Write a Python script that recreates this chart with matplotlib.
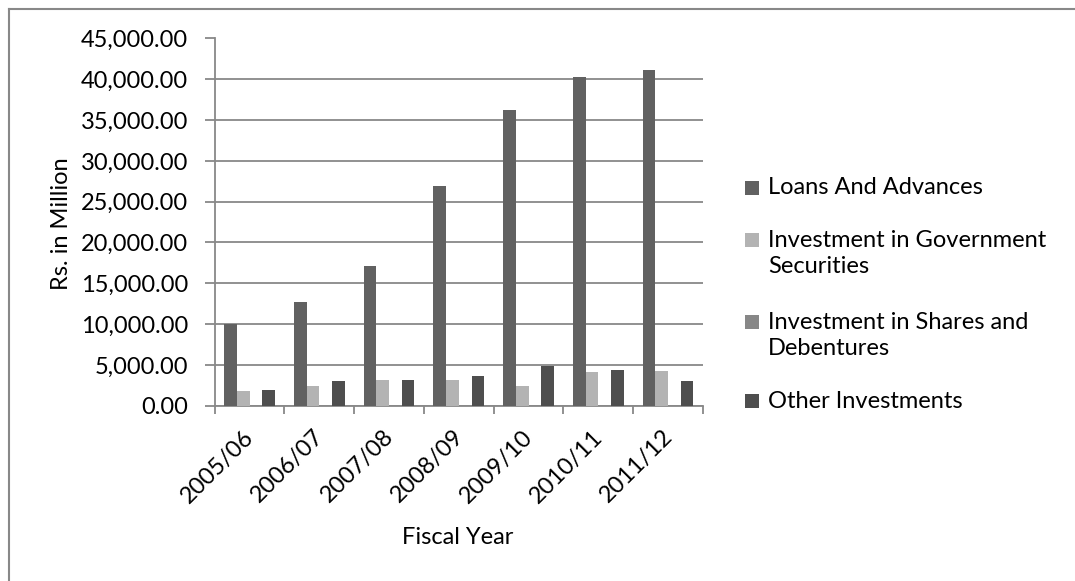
import matplotlib
matplotlib.use("Agg")
import matplotlib.pyplot as plt
from matplotlib.patches import Rectangle
from matplotlib.lines import Line2D
from matplotlib.ticker import FuncFormatter
import matplotlib.transforms as mtransforms
import numpy as np

# Fiscal years and figures in Rs. million
years = ["2005/06", "2006/07", "2007/08", "2008/09", "2009/10", "2010/11", "2011/12"]
loans_advances = [10050, 12670, 17160, 26920, 36240, 40320, 41100]
govt_securities = [1860, 2440, 3180, 3090, 2440, 4170, 4260]
shares_debentures = [0, 0, 0, 0, 0, 0, 0]
other_investments = [1940, 3020, 3140, 3640, 4830, 4330, 3020]

series_names = ["Loans And Advances",
                "Investment in Government\nSecurities",
                "Investment in Shares and\nDebentures",
                "Other Investments"]
series_values = [loans_advances, govt_securities, shares_debentures, other_investments]
series_colors = ["#616161", "#b3b3b3", "#878787", "#4e4e4e"]

FONT = "Lato"
FS = 17.0
GRID = "#888888"

W, H = 1075, 581
fig = plt.figure(figsize=(W / 100, H / 100), dpi=100)
fig.patch.set_facecolor("white")

def px(x, y):
    return x / W, 1 - y / H

left, right, top, bottom = 214.7, 703.0, 38.5, 405.7
ax = fig.add_axes([left / W, 1 - bottom / H, (right - left) / W, (bottom - top) / H])

x = np.arange(len(years))
n = len(series_values)
bw = 1 / 5.5
for i, (vals, col) in enumerate(zip(series_values, series_colors)):
    ax.bar(x + (i - (n - 1) / 2) * bw, vals, width=bw, color=col, linewidth=0, zorder=3)

ax.set_xlim(-0.5, len(years) - 0.5)
ax.set_ylim(0, 45000)
ax.set_yticks(np.arange(0, 45001, 5000))
ax.yaxis.set_major_formatter(FuncFormatter(lambda v, p: f"{v:,.2f}"))
ax.yaxis.grid(True, color=GRID, linewidth=1.3, zorder=0)
ax.set_axisbelow(True)

for s in ("top", "right"):
    ax.spines[s].set_visible(False)
for s in ("left", "bottom"):
    ax.spines[s].set_color(GRID)
    ax.spines[s].set_linewidth(1.3)

# category boundary ticks, labels centred on categories
ax.set_xticks(np.arange(-0.5, len(years), 1))
ax.set_xticklabels([])
ax.set_xticks(x, years, minor=True)
ax.tick_params(axis="x", which="major", direction="out", length=6, width=1.3, color=GRID)
ax.tick_params(axis="x", which="minor", length=0, pad=20)
ax.tick_params(axis="y", direction="out", length=7, width=1.3, color=GRID, pad=12)

for lab in ax.get_yticklabels():
    lab.set_fontfamily(FONT)
    lab.set_fontsize(FS)
offset = mtransforms.ScaledTranslation(1 / 100, 0, fig.dpi_scale_trans)
for lab in ax.get_xticklabels(minor=True):
    lab.set_fontfamily(FONT)
    lab.set_fontsize(FS)
    lab.set_rotation(45)
    lab.set_ha("right")
    lab.set_va("center")
    lab.set_rotation_mode("anchor")
    lab.set_transform(lab.get_transform() + offset)

fig.text(*px(62, 224), "Rs. in Million", rotation=90, ha="center", va="center",
         fontfamily=FONT, fontsize=FS)
fig.text(*px(458, 537), "Fiscal Year", ha="center", va="center",
         fontfamily=FONT, fontsize=FS)

# legend
leg_first = [188, 240, 322, 401]
line_gap = 27
for name, col, yf in zip(series_names, series_colors, leg_first):
    nlines = name.count("\n") + 1
    yc = yf + (nlines - 1) * line_gap / 2
    fig.patches.append(Rectangle(px(745, yf + 7), 14 / W, 14 / H,
                                 transform=fig.transFigure, facecolor=col,
                                 edgecolor="none"))
    fig.text(*px(768, yc), name, ha="left", va="center", fontfamily=FONT,
             fontsize=FS, linespacing=1.3)

# chart area border
fig.lines.append(Line2D([8.5 / W, 8.5 / W], [0, 1 - 8.5 / H], transform=fig.transFigure,
                        color=GRID, linewidth=1.5))
fig.lines.append(Line2D([8.5 / W, 1], [1 - 8.5 / H, 1 - 8.5 / H], transform=fig.transFigure,
                        color=GRID, linewidth=1.5))

fig.savefig("out.png", dpi=100, facecolor="white")
